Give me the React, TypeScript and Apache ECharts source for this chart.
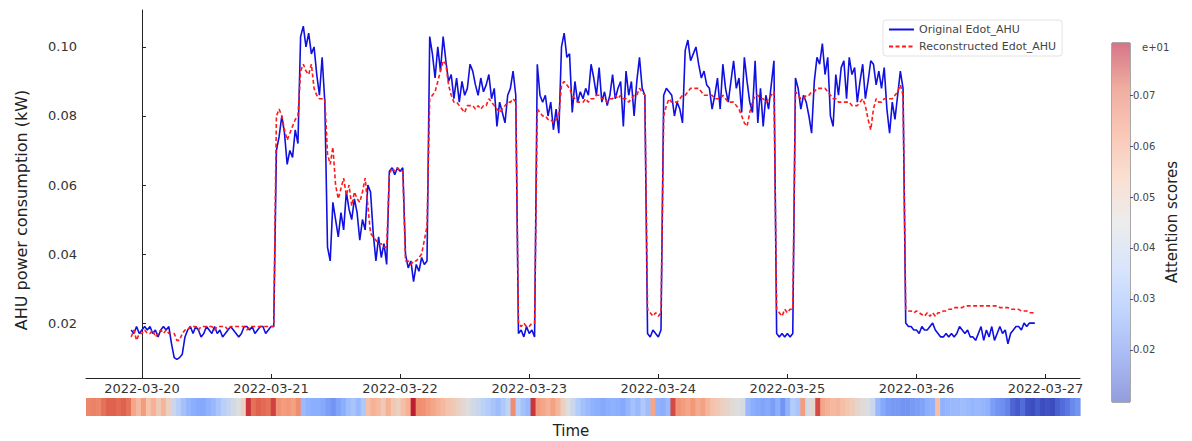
import React, { useEffect, useRef } from "react";
import * as echarts from "echarts";

// time grid: hours relative to 2022-03-20 00:00, one point every 30 minutes
const START_HOURS = -2;
const STEP_HOURS = 0.5;

const xTickLabels = ["2022-03-20", "2022-03-21", "2022-03-22", "2022-03-23", "2022-03-24", "2022-03-25", "2022-03-26", "2022-03-27"];
const yTicks = [0.02, 0.04, 0.06, 0.08, 0.1];
const cbTicks = [0.02, 0.03, 0.04, 0.05, 0.06, 0.07];
const cbRange = [0.0098, 0.0802];

// values in W (1e-3 kW)
const originalW = [
  18, 17, 19, 17, 18, 19, 18, 19, 17, 18, 16, 18, 19, 18, 19, 14, 10, 9.5, 10, 11, 16,
  18, 19, 17, 19, 18, 16, 17, 19, 18, 17, 19, 17, 18, 16, 17, 18, 19, 18, 17, 16, 17, 19, 19, 18, 19, 17, 18, 19, 19, 17, 18, 19, 19,
  70, 74, 80, 75, 66, 70, 68, 76, 72, 103, 106, 100, 104, 98, 100, 92, 86, 97, 84,
  42, 38, 55, 50, 45, 52, 47, 58, 53, 50, 56, 52, 44, 50, 47, 60, 58, 46, 38, 45, 39, 43, 37, 64, 65, 63, 65, 64, 65, 40, 36, 38, 32, 37, 35, 39, 37, 38,
  103, 98, 91, 100, 93, 103, 96, 90, 92, 85, 91, 84, 90, 86, 88, 95, 93, 89, 86, 91, 87, 89, 92, 85, 88, 77, 84, 81, 78, 86, 88, 93, 86,
  17, 18, 16, 19, 17, 18, 16,
  95, 86, 84, 86, 80, 84, 76, 82, 75, 100, 104, 97, 98, 81, 90, 84, 87, 85, 88, 86, 95, 91, 86, 94, 84, 87, 83, 86, 92, 85, 88, 90, 77, 93, 86, 90, 80, 90, 97, 88, 86,
  17, 16, 18, 17, 16, 18,
  86, 88, 87, 86, 80, 84, 82, 78, 99, 102, 96, 98, 100, 95, 91, 93, 89, 88, 82, 86, 91, 82, 95, 88, 84, 90, 96, 88, 91, 81, 97, 90, 84, 81, 96, 78, 88, 77, 86, 82, 89, 96,
  17, 16, 17, 16, 17, 16, 17,
  91, 88, 82, 86, 84, 80, 75, 90, 97, 95, 101, 92, 97, 80, 77, 92, 86, 94, 96, 85, 97, 92, 94, 84, 90, 95, 85, 90, 96, 95, 89, 93, 88, 94, 82, 75, 84, 79, 86, 93, 88,
  20, 19, 19, 18, 18, 17, 19, 18, 18, 19, 20, 18, 17, 16, 16, 17, 16, 17, 16, 17, 19, 18, 17, 18, 16, 16, 15, 17, 19, 15, 18, 16, 19, 15, 17, 19, 17, 18, 14, 17, 18, 19, 19, 18, 20, 19, 20, 20, 20,
];

const reconstructedW = [
  16, 18, 15, 17, 17, 18, 17, 17, 18, 16, 17, 18, 17, 18, 17, 17, 17, 15, 15, 17, 18,
  18, 19, 19, 19, 18, 19, 19, 19, 19, 19, 18, 19, 19, 19, 19, 18, 19, 19, 19, 19, 19, 19, 18, 19, 19, 19, 19, 19, 19, 19, 19, 19, 19,
  80, 82, 80, 76, 73, 75, 77, 79, 80, 93, 95, 93, 92, 95, 88, 86, 85, 85, 85,
  69, 66, 71, 60, 56, 59, 62, 57, 60, 54, 58, 56, 55, 58, 62, 54, 46, 45, 44, 43, 43, 42, 42, 63, 65, 64, 65, 64, 64, 38, 38, 37, 38, 38, 39, 40, 44, 48,
  85, 86, 87, 90, 93, 96, 95, 89, 86, 84, 84, 83, 82, 81, 83, 83, 83, 82, 83, 82, 83, 83, 85, 84, 83, 82, 81, 82, 83, 84, 84, 85, 84,
  20, 19, 20, 19, 19, 20, 20,
  82, 81, 80, 80, 79, 79, 78, 79, 80, 89, 90, 89, 88, 86, 85, 84, 84, 84, 85, 84, 85, 85, 86, 86, 85, 85, 84, 85, 85, 86, 85, 86, 85, 85, 84, 85, 86, 86, 88, 87, 86,
  24, 23, 22, 23, 22, 23,
  80, 83, 85, 84, 84, 84, 85, 86, 86, 87, 88, 88, 88, 88, 87, 86, 86, 86, 86, 85, 85, 85, 86, 85, 84, 84, 84, 83, 82, 80, 78, 77, 81, 84, 86, 86, 85, 85, 84, 85, 86, 87,
  24, 23, 22, 24, 23, 24, 24,
  87, 86, 85, 85, 86, 86, 87, 87, 88, 88, 88, 88, 87, 86, 85, 85, 84, 84, 84, 84, 84, 83, 83, 83, 84, 85, 83, 79, 76, 82, 85, 84, 84, 85, 85, 85, 85, 86, 87, 89, 86,
  24, 23.5, 23.5, 23, 23.5, 23, 22.5, 22, 23, 22, 23, 22, 23, 23, 23.5, 23.5, 24, 24, 24.5, 24.5, 24.5, 24.5, 25, 25, 25, 25, 25, 25, 25, 25, 25, 25, 25, 25, 25, 24.5, 24.5, 24.5, 24.5, 24, 24, 24, 24, 23.5, 23.5, 23.5, 23, 23, 23,
];

// attention scores along the strip below the axis
const attention = [
  0.066, 0.067, 0.066, 0.07, 0.072, 0.072, 0.071, 0.072, 0.07,
  0.06, 0.056, 0.062, 0.054, 0.058, 0.052, 0.057, 0.05,
  0.04, 0.036, 0.032, 0.029, 0.027, 0.026, 0.026, 0.028,
  0.03, 0.033, 0.036, 0.039, 0.042, 0.045, 0.05,
  0.076, 0.07, 0.072, 0.071, 0.07, 0.075,
  0.064, 0.062, 0.063, 0.061, 0.065,
  0.03, 0.028, 0.027, 0.027, 0.026, 0.024, 0.022, 0.025, 0.027,
  0.031, 0.033, 0.03, 0.034,
  0.055, 0.058, 0.056, 0.052, 0.058, 0.053, 0.05, 0.055, 0.058, 0.078,
  0.065, 0.064, 0.062, 0.06, 0.058, 0.056, 0.054, 0.052, 0.05,
  0.047, 0.045, 0.042, 0.04, 0.037, 0.035, 0.033, 0.031, 0.034,
  0.038, 0.065, 0.036, 0.032, 0.03, 0.076,
  0.062, 0.06, 0.058, 0.061, 0.057,
  0.05, 0.045, 0.04, 0.035, 0.032, 0.03, 0.028,
  0.027, 0.026, 0.027, 0.028, 0.027, 0.026, 0.029,
  0.032, 0.03, 0.034, 0.031, 0.06, 0.028, 0.027, 0.03, 0.074,
  0.064, 0.062, 0.06, 0.063, 0.059, 0.061, 0.057,
  0.054, 0.052, 0.05, 0.048, 0.046, 0.045, 0.043,
  0.03, 0.027, 0.026, 0.025, 0.026, 0.024, 0.027, 0.022, 0.028,
  0.035, 0.033, 0.062, 0.042, 0.048, 0.074,
  0.06, 0.058, 0.056, 0.057, 0.055, 0.053, 0.051,
  0.048, 0.046, 0.044, 0.04,
  0.03, 0.026, 0.024, 0.023, 0.023, 0.022, 0.022, 0.023, 0.024, 0.025, 0.027, 0.028,
  0.055,
  0.028, 0.029, 0.03, 0.03, 0.031, 0.03, 0.029, 0.03, 0.029, 0.028,
  0.024, 0.022, 0.021, 0.019,
  0.014, 0.012, 0.015, 0.011, 0.01, 0.012, 0.01, 0.011, 0.01, 0.013, 0.015, 0.017,
  0.02, 0.022,
];

const COOLWARM = ["#3b4cc0", "#6282ea", "#8db0fe", "#b9d0f9", "#dddddd", "#f5c4ac", "#f49a7b", "#e26952", "#b40426"];
const FONT = "DejaVu Sans";

function fade(hex: string, a: number) {
  const n = parseInt(hex.slice(1), 16);
  const r = (n >> 16) & 255, g = (n >> 8) & 255, b = n & 255;
  const f = (c: number) => Math.round(c * a + 255 * (1 - a));
  return `rgb(${f(r)},${f(g)},${f(b)})`;
}

export default function App() {
  const ref = useRef<HTMLDivElement>(null);
  useEffect(() => {
    if (!ref.current) return;
    const chart = echarts.init(ref.current, undefined, { renderer: "svg" });
    const toDays = (i: number) => (START_HOURS + i * STEP_HOURS) / 24;
    const orig = originalW.map((v, i) => [toDays(i), v / 1000]);
    const recon = reconstructedW.map((v, i) => [toDays(i), v / 1000]);
    const dayTicks = xTickLabels.map((_, i) => i);
    const span = toDays(originalW.length - 1) - toDays(0);
    const xMin = toDays(0) - span * 0.05;
    const xMax = toDays(originalW.length - 1) + span * 0.05;

    const stops = COOLWARM.map((c, i) => ({ offset: i / (COOLWARM.length - 1), color: fade(c, 0.55) }));

    chart.setOption({
      animation: false,
      backgroundColor: "#ffffff",
      textStyle: { fontFamily: FONT },
      grid: [
        { left: 86, top: 10, width: 994, height: 368 },
        { left: 86, top: 398, width: 994, height: 18 },
        { left: 1112, top: 43, width: 18, height: 359, show: true, borderColor: "#555", borderWidth: 1, backgroundColor: "transparent" },
      ],
      xAxis: [
        {
          type: "value", gridIndex: 0, min: xMin, max: xMax,
          splitLine: { show: false },
          axisLine: { lineStyle: { color: "#222", width: 1 } },
          axisTick: { customValues: dayTicks, inside: true, length: 4, lineStyle: { color: "#222" } },
          axisLabel: { customValues: dayTicks, formatter: (v: number) => xTickLabels[Math.round(v)] ?? "", fontSize: 13, color: "#333", margin: 4, fontFamily: FONT },
        },
        { type: "category", gridIndex: 1, data: attention.map((_, i) => i), show: false },
        { type: "category", gridIndex: 2, data: ["cb"], show: false },
      ],
      yAxis: [
        {
          type: "value", gridIndex: 0, min: 0.0041, max: 0.1107,
          splitLine: { show: false },
          axisLine: { show: true, lineStyle: { color: "#222", width: 1 } },
          axisTick: { show: true, customValues: yTicks, inside: true, length: 4, lineStyle: { color: "#222" } },
          axisLabel: { customValues: yTicks, formatter: (v: number) => v.toFixed(2), fontSize: 13, color: "#333", margin: 9, fontFamily: FONT },
        },
        { type: "category", gridIndex: 1, data: ["a"], show: false },
        {
          type: "value", gridIndex: 2, min: cbRange[0], max: cbRange[1], position: "right",
          splitLine: { show: false },
          axisLine: { show: false },
          axisTick: { show: true, customValues: cbTicks, length: 3, lineStyle: { color: "#555" } },
          axisLabel: { customValues: cbTicks, formatter: (v: number) => v.toFixed(2), fontSize: 10, color: "#444", margin: 3, fontFamily: FONT },
        },
      ],
      visualMap: {
        type: "continuous", show: false, seriesIndex: 2, dimension: 2,
        min: cbRange[0], max: cbRange[1], inRange: { color: COOLWARM },
      },
      legend: {
        orient: "vertical", left: 883, top: 20, itemWidth: 25, itemHeight: 12, itemGap: 6,
        padding: [4, 6, 4, 5],
        borderColor: "#e2e2e2", borderWidth: 1, borderRadius: 3,
        backgroundColor: "rgba(255,255,255,0.8)",
        itemStyle: { opacity: 0 },
        textStyle: { fontSize: 11, color: "#444", fontFamily: FONT },
        data: ["Original Edot_AHU", "Reconstructed Edot_AHU"],
      },
      series: [
        {
          name: "Original Edot_AHU", type: "line", xAxisIndex: 0, yAxisIndex: 0, data: orig,
          symbol: "none", lineStyle: { color: "#1010e0", width: 1.6 }, itemStyle: { color: "#1010e0" }, z: 2,
        },
        {
          name: "Reconstructed Edot_AHU", type: "line", xAxisIndex: 0, yAxisIndex: 0, data: recon,
          symbol: "none", lineStyle: { color: "#ff1a1a", width: 1.6, type: [4, 2.5] }, itemStyle: { color: "#ff1a1a" }, z: 3,
        },
        {
          type: "custom", xAxisIndex: 1, yAxisIndex: 1,
          data: attention.map((v, i) => [i, 0, v]),
          encode: { x: 0, y: 1 },
          renderItem: (params: any, api: any) => {
            const c = api.coord([api.value(0), 0]);
            const w = api.size([1, 0])[0];
            const cs = params.coordSys;
            return {
              type: "rect",
              shape: { x: c[0] - w / 2, y: cs.y, width: w + 0.6, height: cs.height },
              style: { fill: api.visual("color") },
            };
          },
        },
        {
          type: "custom", xAxisIndex: 2, yAxisIndex: 2,
          data: [[0, cbRange[0]]],
          renderItem: (params: any) => {
            const cs = params.coordSys;
            return {
              type: "rect",
              shape: { x: cs.x, y: cs.y, width: cs.width, height: cs.height },
              style: { fill: new echarts.graphic.LinearGradient(0, 1, 0, 0, stops) },
            };
          },
        },
      ],
      graphic: [
        {
          type: "text", x: 21, y: 210, rotation: Math.PI / 2,
          style: { text: "AHU power consumption (kW)", fontSize: 16, fill: "#222", align: "center", verticalAlign: "middle", fontFamily: FONT },
        },
        {
          type: "text", x: 571, y: 431,
          style: { text: "Time", fontSize: 15, fill: "#222", align: "center", verticalAlign: "middle", fontFamily: FONT },
        },
        {
          type: "text", x: 1172, y: 222, rotation: Math.PI / 2,
          style: { text: "Attention scores", fontSize: 15, fill: "#222", align: "center", verticalAlign: "middle", fontFamily: FONT },
        },
        {
          type: "text", x: 1142, y: 47,
          style: { text: "e+01", fontSize: 10, fill: "#444", align: "left", verticalAlign: "middle", fontFamily: FONT },
        },
      ],
    });
    return () => chart.dispose();
  }, []);
  return <div ref={ref} style={{ position: "fixed", left: 0, top: 0, width: 1192, height: 441 }} />;
}
